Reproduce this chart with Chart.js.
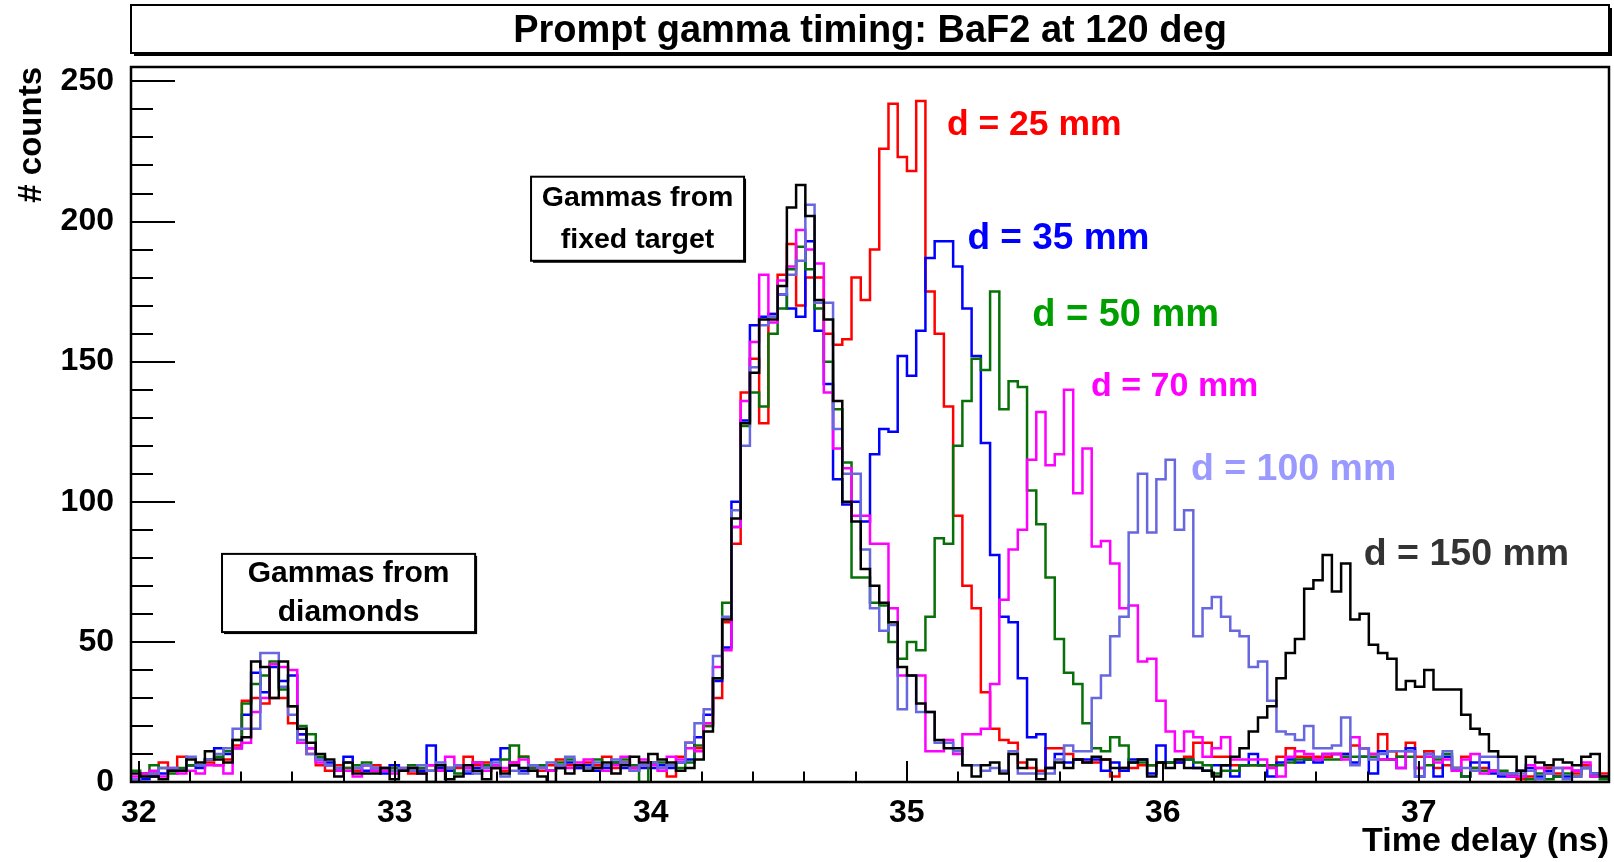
<!DOCTYPE html>
<html>
<head>
<meta charset="utf-8">
<title>Prompt gamma timing: BaF2 at 120 deg</title>
<script src="https://cdn.jsdelivr.net/npm/chart.js@4.4.1/dist/chart.umd.min.js"></script>
<style>
  html, body { margin: 0; padding: 0; background: #fff; }
  #wrap { width: 1614px; height: 862px; }
</style>
</head>
<body>
<div id="wrap"><canvas id="timingChart" width="1614" height="862"></canvas></div>
<script>
// histogram binning (ns) and axis ticks
const binLow = 31.97;
const binWidth = 0.03608;
const xTickValues = [32, 33, 34, 35, 36, 37];
const yTickValues = [0, 50, 100, 150, 200, 250];

// counts per bin (160 bins each)
const counts25 = [
  1, 3, 3, 7, 4, 9, 6, 6, 7, 6, 8, 13, 29, 30, 28, 30, 30, 21, 17, 10, 6, 4, 6, 5, 4, 6, 6, 5, 5,
  5, 3, 4, 6, 4, 5, 5, 9, 6, 7, 5, 4, 7, 9, 5, 4, 6, 8, 6, 5, 7, 6, 9, 5, 7, 4, 6,
  7, 5, 2, 9, 14, 12, 20, 30, 57, 85, 139, 151, 128, 167, 181, 192, 170, 180, 180, 160, 156,
  158, 180, 172, 190, 226, 242, 223, 218, 243, 175, 160, 134, 95, 70, 62, 32, 19,
  15, 14, 7, 5, 4, 12, 12, 10, 8, 7, 7, 8, 2, 5, 5, 6, 6, 7, 7, 7,
  9, 14, 14, 9, 9, 6, 6, 6, 6, 6, 9, 12, 9, 9, 9, 9, 10, 10, 13, 12, 10, 17,
  11, 9, 14, 9, 11, 5, 6, 5, 9, 5, 5, 4, 3, 2, 1, 2, 5, 5, 3, 5, 3, 6, 3, 3
];
const counts35 = [
  1, 1, 2, 3, 4, 4, 6, 5, 8, 12, 10, 12, 24, 39, 32, 41, 36, 38, 17, 12, 8, 7, 4, 9, 5, 4, 5, 3, 6,
  4, 5, 4, 13, 5, 4, 6, 3, 5, 6, 8, 12, 6, 4, 5, 6, 4, 5, 7, 5, 6, 4, 5, 7, 5, 6, 5,
  5, 6, 5, 7, 8, 16, 24, 36, 48, 100, 129, 163, 166, 167, 174, 169, 166, 193, 161, 142, 108,
  99, 100, 93, 117, 126, 125, 152, 145, 161, 187, 193, 193, 184, 169, 152, 121, 81,
  59, 57, 37, 16, 17, 5, 10, 7, 8, 8, 8, 4, 7, 4, 8, 8, 3, 13, 7, 7,
  8, 5, 4, 6, 6, 2, 6, 10, 6, 2, 7, 8, 7, 8, 7, 10, 10, 10, 7, 9, 3, 11,
  8, 5, 12, 2, 10, 2, 9, 4, 2, 7, 7, 3, 2, 2, 4, 5, 2, 4, 2, 2, 4, 5, 3, 2
];
const counts50 = [
  4, 3, 6, 5, 3, 5, 6, 6, 8, 9, 11, 15, 28, 35, 38, 43, 33, 27, 20, 17, 9, 6, 5, 5, 6, 7, 4, 4, 5,
  4, 6, 5, 4, 6, 5, 3, 5, 7, 6, 5, 8, 13, 9, 5, 6, 4, 7, 8, 6, 5, 8, 6, 7, 8, 6, 0,
  7, 7, 6, 5, 7, 13, 20, 37, 64, 91, 127, 139, 134, 160, 169, 183, 191, 183, 169, 150, 133,
  114, 73, 73, 64, 63, 50, 44, 50, 47, 59, 87, 85, 120, 136, 151, 147, 175,
  133, 143, 141, 104, 92, 73, 51, 39, 35, 21, 12, 11, 16, 13, 7, 7, 6, 7, 7, 8,
  8, 7, 6, 3, 4, 4, 6, 6, 6, 6, 6, 7, 8, 8, 8, 8, 8, 9, 9, 9, 9, 8,
  8, 9, 9, 5, 6, 8, 10, 5, 2, 5, 4, 4, 4, 3, 2, 1, 3, 1, 2, 3, 2, 5, 2, 1
];
const counts70 = [
  2, 3, 4, 2, 5, 3, 4, 3, 6, 6, 3, 12, 14, 25, 30, 42, 41, 40, 14, 12, 7, 6, 4, 4, 2, 6, 4, 4, 3,
  4, 5, 3, 6, 4, 9, 6, 5, 7, 4, 6, 5, 7, 8, 6, 5, 4, 6, 5, 7, 8, 5, 4, 6, 9, 5, 8,
  6, 4, 9, 8, 12, 11, 21, 41, 47, 91, 136, 157, 181, 164, 179, 184, 197, 190, 185, 139, 119,
  112, 95, 95, 85, 85, 62, 38, 38, 38, 11, 11, 15, 10, 17, 17, 19, 35,
  65, 83, 90, 115, 132, 113, 117, 140, 103, 119, 84, 86, 78, 62, 63, 43, 44, 29, 18, 11,
  18, 16, 9, 12, 16, 8, 8, 8, 8, 5, 2, 9, 11, 10, 8, 10, 10, 8, 16, 12, 10, 8,
  8, 5, 11, 5, 9, 7, 8, 4, 8, 10, 3, 4, 3, 2, 2, 6, 5, 3, 5, 5, 4, 7, 2, 2
];
const counts100 = [
  1, 2, 3, 5, 5, 4, 9, 6, 8, 10, 12, 19, 19, 19, 46, 46, 34, 24, 15, 10, 8, 6, 5, 7, 5, 6, 5, 5, 4,
  5, 4, 6, 4, 7, 5, 6, 4, 3, 5, 7, 2, 4, 3, 6, 5, 7, 6, 9, 6, 5, 7, 6, 8, 7, 4, 6,
  7, 5, 6, 7, 14, 21, 26, 45, 59, 97, 120, 148, 163, 166, 174, 181, 186, 206, 171, 171, 126,
  110, 110, 83, 62, 54, 56, 26, 38, 25, 25, 14, 14, 11, 6, 6, 4, 5,
  4, 11, 3, 3, 3, 3, 8, 13, 11, 11, 30, 38, 52, 59, 89, 110, 89, 108, 115, 90,
  97, 52, 62, 66, 59, 54, 52, 41, 43, 29, 18, 17, 15, 20, 12, 12, 13, 23, 6, 12, 8, 10,
  11, 11, 11, 2, 10, 9, 11, 5, 5, 4, 9, 9, 3, 3, 3, 4, 1, 3, 5, 1, 2, 5, 3, 2
];
const counts150 = [
  3, 2, 2, 1, 4, 4, 8, 7, 11, 8, 7, 15, 16, 43, 41, 30, 43, 27, 19, 14, 10, 8, 2, 7, 3, 3, 3, 5, 1,
  4, 5, 3, 0, 6, 1, 2, 6, 4, 1, 5, 3, 6, 5, 4, 2, 0, 5, 3, 6, 4, 5, 7, 3, 6, 9, 7,
  10, 8, 7, 4, 5, 8, 18, 37, 58, 94, 128, 146, 165, 165, 177, 205, 213, 202, 172, 165, 136,
  100, 93, 76, 70, 64, 57, 41, 38, 28, 25, 15, 12, 12, 6, 2, 6, 7,
  3, 10, 5, 8, 1, 5, 7, 5, 8, 7, 9, 8, 5, 5, 7, 8, 2, 7, 5, 8,
  5, 5, 4, 2, 6, 9, 12, 18, 23, 27, 37, 46, 51, 69, 72, 81, 68, 78, 58, 60, 49, 46,
  44, 33, 36, 34, 40, 33, 33, 33, 24, 19, 17, 11, 9, 9, 4, 9, 7, 6, 8, 7, 6, 9, 10, 2
];

const FONT = '"Liberation Sans", Arial, Helvetica, sans-serif';

// step points: left edge of every bin, plus the right edge of the last one
const toSteps = (counts) => {
  const pts = counts.map((c, i) => ({ x: binLow + i * binWidth, y: c }));
  pts.push({ x: binLow + counts.length * binWidth, y: counts[counts.length - 1] });
  return pts;
};

const series = [
  { label: 'd = 150 mm', counts: counts150, line: '#000000', text: '#333333', at: [36.785, 81], size: 37.5 },
  { label: 'd = 100 mm', counts: counts100, line: '#6767e0', text: '#9999ff', at: [36.11, 111.5], size: 37.5 },
  { label: 'd = 70 mm', counts: counts70, line: '#ff00ff', text: '#ff00ff', at: [35.72, 141], size: 34 },
  { label: 'd = 50 mm', counts: counts50, line: '#087008', text: '#009f00', at: [35.49, 166.5], size: 38 },
  { label: 'd = 35 mm', counts: counts35, line: '#0000ff', text: '#0000ff', at: [35.237, 194], size: 37 },
  { label: 'd = 25 mm', counts: counts25, line: '#ff0000', text: '#ff0000', at: [35.157, 234.5], size: 35.5 },
];

const notes = [
  { lines: ['Gammas from', 'fixed target'], box: [33.5325, 216, 34.3645, 186], size: 28.5 },
  { lines: ['Gammas from', 'diamonds'], box: [32.3255, 81.4, 33.314, 53.5], size: 30 },
];

const framePlugin = {
  id: 'framePlugin',
  beforeDraw(chart) {
    const { ctx, chartArea: a } = chart;
    ctx.save();
    // title pave
    const tx = a.left, ty = 5, tw = a.right - a.left, th = 48;
    ctx.fillStyle = '#000';
    ctx.fillRect(tx + 3, ty + 3, tw, th);
    ctx.fillStyle = '#fff';
    ctx.fillRect(tx, ty, tw, th);
    ctx.strokeStyle = '#000';
    ctx.lineWidth = 2;
    ctx.strokeRect(tx, ty, tw, th);
    ctx.fillStyle = '#000';
    ctx.font = 'bold 38px ' + FONT;
    ctx.textAlign = 'center';
    ctx.textBaseline = 'alphabetic';
    ctx.fillText('Prompt gamma timing: BaF2 at 120 deg', (a.left + a.right) / 2, 42);
    ctx.restore();
  },
  afterDatasetsDraw(chart) {
    const { ctx, chartArea: a, scales: { x, y } } = chart;
    ctx.save();
    ctx.strokeStyle = '#000';
    ctx.lineWidth = 2;
    ctx.beginPath();
    // x ticks: major every 1 ns, minor every 0.2 ns
    for (let k = 0; k <= 29; k++) {
      const v = 32 + k * 0.2;
      if (v > x.max) break;
      const px = Math.round(x.getPixelForValue(v));
      const len = k % 5 === 0 ? 21 : 10.5;
      ctx.moveTo(px, a.bottom);
      ctx.lineTo(px, a.bottom - len);
    }
    // y ticks: major every 50, minor every 10
    for (let v = 0; v <= 250; v += 10) {
      const py = Math.round(y.getPixelForValue(v));
      const len = v % 50 === 0 ? 44 : 22;
      ctx.moveTo(a.left, py);
      ctx.lineTo(a.left + len, py);
    }
    ctx.stroke();
    ctx.lineWidth = 2.5;
    ctx.strokeRect(a.left, a.top, a.right - a.left, a.bottom - a.top);

    // curve labels
    ctx.textAlign = 'left';
    ctx.textBaseline = 'middle';
    series.forEach((s) => {
      ctx.fillStyle = s.text;
      ctx.font = 'bold ' + s.size + 'px ' + FONT;
      ctx.fillText(s.label, x.getPixelForValue(s.at[0]), y.getPixelForValue(s.at[1]));
    });

    // text boxes
    notes.forEach((n) => {
      const x0 = x.getPixelForValue(n.box[0]);
      const y0 = y.getPixelForValue(n.box[1]);
      const x1 = x.getPixelForValue(n.box[2]);
      const y1 = y.getPixelForValue(n.box[3]);
      ctx.fillStyle = '#000';
      ctx.fillRect(x0 + 2, y0 + 2, x1 - x0, y1 - y0);
      ctx.fillStyle = '#fff';
      ctx.fillRect(x0, y0, x1 - x0, y1 - y0);
      ctx.lineWidth = 2;
      ctx.strokeRect(x0, y0, x1 - x0, y1 - y0);
      ctx.fillStyle = '#000';
      ctx.font = 'bold ' + n.size + 'px ' + FONT;
      ctx.textAlign = 'center';
      const cx = (x0 + x1) / 2;
      const h = (y1 - y0) / 2;
      ctx.fillText(n.lines[0], cx, y0 + h * 0.5);
      ctx.fillText(n.lines[1], cx, y0 + h * 1.5);
    });
    ctx.restore();
  },
};

new Chart(document.getElementById('timingChart'), {
  type: 'line',
  data: {
    datasets: series.map((s) => ({
      label: s.label,
      data: toSteps(s.counts),
      borderColor: s.line,
      borderWidth: 2.5,
      stepped: true,
      pointRadius: 0,
      fill: false,
    })),
  },
  options: {
    responsive: false,
    animation: false,
    devicePixelRatio: 1,
    layout: { padding: { left: 0, right: 5, top: 67, bottom: 0 } },
    plugins: { legend: { display: false }, tooltip: { enabled: false }, title: { display: false } },
    scales: {
      x: {
        type: 'linear',
        min: binLow,
        max: binLow + counts25.length * binWidth,
        afterBuildTicks: (s) => { s.ticks = xTickValues.map((v) => ({ value: v })); },
        afterFit: (s) => { s.height = 80; },
        grid: { display: false },
        border: { display: false },
        ticks: {
          autoSkip: false,
          maxRotation: 0,
          padding: 4,
          color: '#000',
          font: { family: FONT, size: 32, weight: 'bold' },
        },
        title: {
          display: true,
          text: 'Time delay (ns)',
          align: 'end',
          color: '#000',
          padding: { top: 0, bottom: 0 },
          font: { family: FONT, size: 34, weight: 'bold' },
        },
      },
      y: {
        type: 'linear',
        min: 0,
        max: 255.15,
        afterBuildTicks: (s) => { s.ticks = yTickValues.map((v) => ({ value: v })); },
        afterFit: (s) => { s.width = 131; },
        grid: { display: false },
        border: { display: false },
        ticks: {
          padding: 9,
          color: '#000',
          font: { family: FONT, size: 32, weight: 'bold' },
        },
        title: {
          display: true,
          text: '# counts',
          align: 'end',
          color: '#000',
          padding: { top: 12, bottom: 0 },
          font: { family: FONT, size: 33, weight: 'bold' },
        },
      },
    },
  },
  plugins: [framePlugin],
});
</script>
</body>
</html>
